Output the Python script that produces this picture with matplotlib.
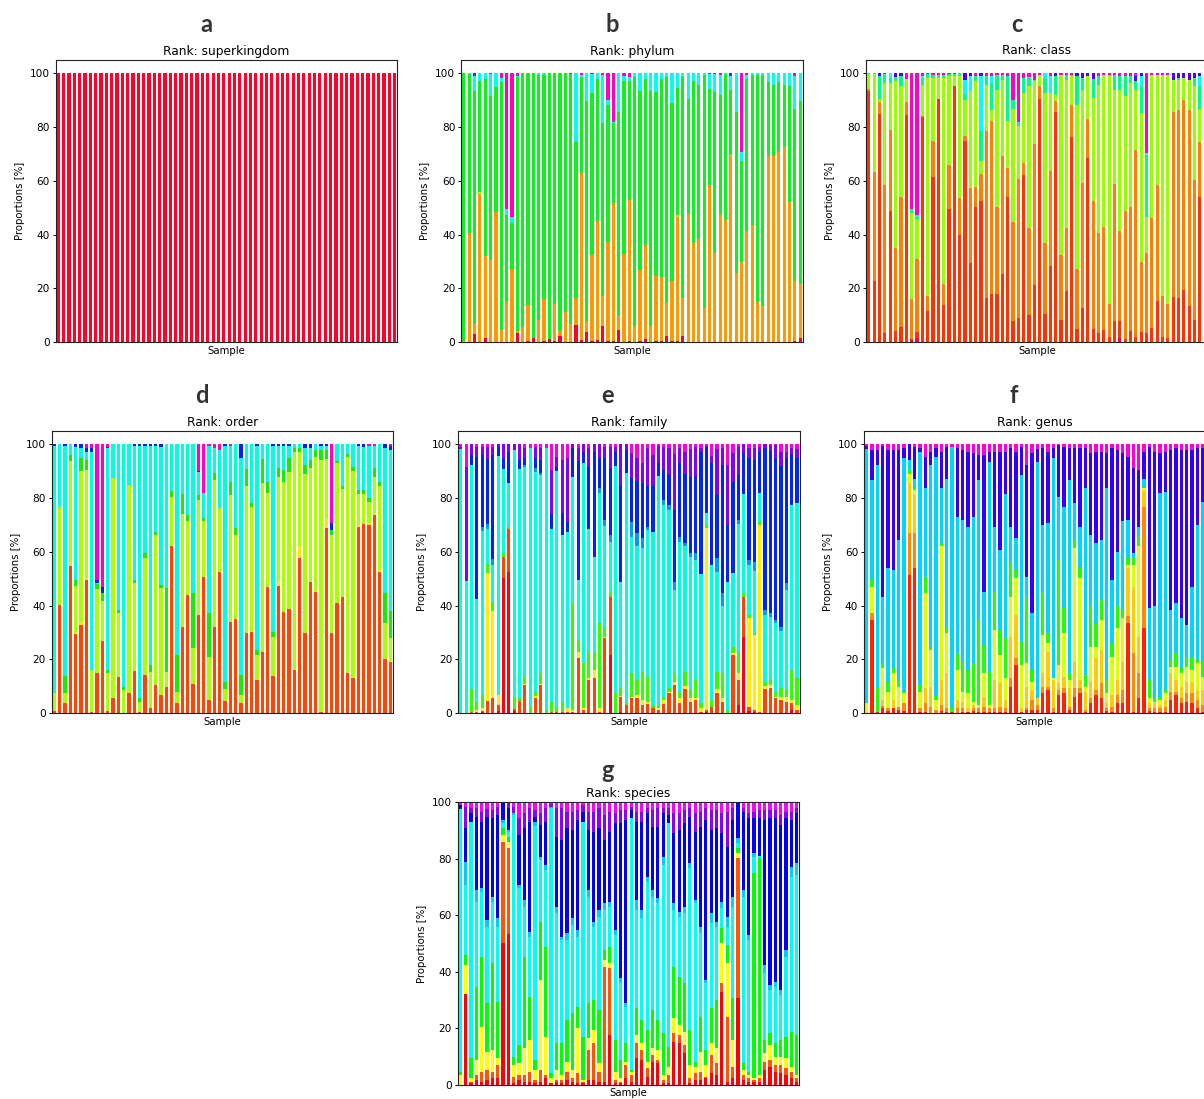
import numpy as np
import matplotlib.pyplot as plt

# Every list holds, per sample, the cumulative percentage at the top edge of
# that taxon's segment (bottom to top). The uppermost taxon fills up to 100 %.

superkingdom_bacteria = [
    100, 100, 100, 100, 100, 100, 100, 100, 100, 100, 100, 100, 100, 100, 100, 100,
    100, 100, 100, 100, 100, 100, 100, 100, 100, 100, 100, 100, 100, 100, 100, 100,
    100, 100, 100, 100, 100, 100, 100, 100, 100, 100, 100, 100, 100, 100, 100, 100,
    100, 100, 100, 100, 100, 100, 100, 100, 100, 100, 100, 100, 100, 100, 100, 100]

# ---- phylum
phylum_red = [
    0, 0, 3.1, 0, 1.7, 0, 0, 0, 0, 0, 3.6, 0, 0.5, 1.5, 0, 0.5,
    1.1, 0.5, 2.4, 0, 0, 6.4, 0.9, 3.8, 0.5, 0.9, 6.2, 0.5, 0.5, 4.7, 0, 0.5,
    0, 0.5, 1.4, 0, 0.5, 0.5, 2.4, 0.5, 0.5, 2.4, 0, 0, 0, 0, 0, 0,
    0, 0, 0, 0, 0, 0, 0, 0, 0, 0, 0, 0, 0, 0, 0.5, 1.7]
phylum_orange = [
    0.5, 40.4, 6.8, 55.1, 32.1, 30.6, 48.5, 4.6, 15.1, 27.3, 4.3, 5.7, 14.0, 1.7, 8.4, 16.0,
    1.1, 14.4, 4.1, 11.3, 6.8, 16.6, 62.9, 7.9, 32.5, 44.9, 17.3, 37.4, 51.7, 9.9, 32.8, 52.9,
    6.2, 26.9, 36.2, 6.2, 24.8, 24.3, 14.5, 22.8, 46.6, 16.5, 47.7, 37.0, 38.4, 12.8, 58.5, 33.3,
    47.7, 45.4, 69.3, 25.9, 30.0, 41.5, 43.6, 15.1, 13.3, 69.3, 69.3, 70.8, 72.5, 52.2, 22.6, 21.7]
phylum_yellowgreen = [
    0.5, 40.4, 6.8, 55.9, 32.1, 30.6, 48.5, 4.6, 15.1, 27.3, 4.3, 5.7, 14.0, 1.7, 8.4, 16.0,
    1.1, 14.4, 4.1, 11.3, 6.8, 16.6, 62.9, 7.9, 32.5, 44.9, 17.3, 37.4, 51.7, 9.9, 32.8, 52.9,
    6.2, 26.9, 36.2, 6.2, 24.8, 24.3, 14.5, 22.8, 47.1, 16.5, 47.7, 37.0, 38.4, 12.8, 58.5, 33.3,
    47.7, 45.4, 69.5, 25.9, 30.0, 41.5, 43.6, 15.1, 13.3, 69.3, 69.3, 70.8, 72.5, 52.2, 22.6, 21.7]
phylum_green = [
    100, 99.8, 93.4, 96.9, 97.9, 91.6, 94.8, 96.8, 47.1, 44.2, 98.5, 100, 100, 100, 99.3, 99.3,
    100, 100, 100, 100, 99.5, 74.5, 98.5, 89.7, 92.6, 97.9, 81.3, 88.0, 81.3, 85.6, 96.9, 97.1,
    98.5, 93.4, 97.9, 93.4, 93.1, 97.9, 98.5, 88.7, 94.4, 98.5, 90.5, 96.9, 95.4, 99.1, 94.2, 92.9,
    91.7, 99.8, 93.8, 85.5, 67.2, 97.8, 99.4, 99.4, 99.4, 96.7, 95.7, 96.5, 95.7, 95.3, 86.6, 89.7]
phylum_cyan = [
    100, 100, 99.0, 100, 100, 99.8, 100, 98.3, 49.6, 46.6, 99.0, 100, 100, 100, 100, 100,
    100, 100, 100, 100, 99.5, 100, 99.3, 100, 99.8, 100, 99.3, 90.1, 81.9, 100, 98.8, 98.4,
    100, 100, 100, 100, 100, 100, 100, 100, 100, 100, 100, 100, 100, 100, 99.5, 99.5,
    99.3, 100, 99.0, 100, 70.8, 99.3, 100, 100, 100, 100, 100, 100, 100, 100, 98.8, 100]
phylum_blue = [
    100, 100, 100, 100, 100, 99.8, 100, 98.3, 49.6, 46.6, 99.0, 100, 100, 100, 100, 100,
    100, 100, 100, 100, 99.5, 100, 99.3, 100, 99.8, 100, 99.3, 90.1, 81.9, 100, 98.8, 98.4,
    100, 100, 100, 100, 100, 100, 100, 100, 100, 100, 100, 100, 100, 100, 99.5, 99.5,
    99.3, 100, 100, 100, 70.8, 99.3, 100, 100, 100, 100, 100, 100, 100, 100, 98.8, 100]

# ---- class (the last sample lies beyond the right edge)
class_crimson = [
    0, 0, 0, 0, 0, 0, 0, 0, 0.9, 1.7, 0, 0, 0, 0, 0, 0,
    0, 0, 0, 0, 0, 0, 0, 0, 0, 0, 0, 0, 0, 0, 0, 0,
    0, 0, 0, 0, 0, 0, 0, 0, 0, 0, 0, 0, 0, 0, 0, 1.7,
    0, 0, 0, 0, 0.3, 0, 0, 0, 0, 0, 0, 0, 0, 0, 0]
class_red = [
    93.4, 22.8, 84.9, 3.6, 48.8, 4.2, 5.5, 84.5, 1.2, 4.0, 83.6, 11.8, 61.2, 90.3, 13.9, 49.6,
    95.3, 39.7, 74.6, 29.6, 50.3, 52.5, 16.6, 18.0, 18.0, 25.5, 54.0, 7.9, 9.2, 62.0, 10.2, 21.1,
    90.5, 10.5, 28.4, 85.5, 8.1, 19.2, 76.1, 5.1, 12.9, 68.6, 5.1, 3.6, 4.6, 1.9, 7.9, 7.9,
    1.4, 4.3, 2.1, 4.0, 3.3, 5.2, 15.4, 2.1, 1.5, 17.0, 16.6, 19.5, 13.6, 8.1, 54.0]
class_orange = [
    94.0, 63.3, 89.1, 58.5, 78.9, 34.9, 53.8, 89.1, 16.1, 30.9, 84.1, 17.3, 74.8, 90.3, 21.7, 65.9,
    95.3, 53.4, 76.5, 57.4, 57.5, 62.5, 78.6, 82.0, 50.4, 69.3, 64.9, 44.7, 60.6, 66.5, 42.6, 73.6,
    95.0, 36.7, 63.7, 89.5, 32.5, 42.6, 88.2, 27.1, 59.2, 82.9, 52.3, 40.6, 42.7, 14.3, 58.9, 41.3,
    48.8, 50.1, 71.3, 29.7, 33.3, 46.1, 58.5, 17.2, 14.3, 85.4, 86.1, 89.8, 86.1, 60.3, 74.3]
class_yellowgreen = [
    99.5, 99.6, 90.3, 96.3, 96.3, 96.9, 95.0, 97.8, 48.0, 45.7, 95.7, 98.1, 98.1, 98.1, 98.1, 99.0,
    99.0, 99.0, 90.1, 93.2, 96.9, 67.2, 95.7, 86.4, 93.8, 97.5, 82.0, 86.6, 80.4, 92.6, 95.0, 96.9,
    99.4, 92.6, 92.6, 92.0, 99.4, 97.5, 98.8, 88.2, 93.8, 98.8, 90.7, 95.7, 99.4, 98.8, 93.8, 93.8,
    91.3, 96.3, 93.6, 85.0, 46.7, 99.4, 99.4, 99.4, 99.4, 97.5, 97.5, 98.1, 97.5, 95.0, 86.6]
class_green = [
    100, 100, 99.0, 99.6, 98.1, 98.5, 99.0, 97.8, 49.6, 46.7, 98.1, 99.5, 99.4, 99.4, 99.4, 99.8,
    99.8, 100, 92.3, 93.2, 99.0, 78.3, 99.0, 96.3, 99.4, 99.4, 99.0, 90.1, 81.3, 98.1, 98.1, 97.5,
    99.4, 98.1, 92.6, 98.8, 99.4, 99.4, 99.4, 98.8, 98.1, 98.8, 97.9, 99.0, 99.4, 99.4, 99.4, 99.0,
    99.0, 99.0, 96.9, 95.0, 69.5, 99.4, 99.4, 99.4, 99.4, 97.5, 98.1, 98.1, 97.5, 98.1, 95.3]
class_cyan = [
    100, 100, 99.0, 99.6, 100, 98.5, 99.0, 97.8, 49.6, 47.3, 99.0, 99.5, 99.4, 99.4, 99.4, 99.8,
    99.8, 100, 97.5, 99.0, 99.0, 99.0, 99.0, 99.0, 99.4, 99.4, 99.0, 90.1, 81.9, 98.1, 98.5, 97.5,
    99.4, 100, 98.8, 98.8, 99.4, 99.4, 99.4, 98.8, 98.1, 98.8, 97.9, 99.0, 99.4, 99.4, 99.4, 99.0,
    99.0, 99.0, 96.9, 99.0, 70.4, 99.4, 99.4, 99.4, 99.4, 97.5, 98.1, 98.1, 97.5, 98.1, 99.0]
class_blue = [
    100, 100, 100, 99.6, 100, 100, 100, 97.8, 49.6, 47.3, 99.0, 99.5, 99.4, 99.4, 99.4, 99.8,
    99.8, 100, 100, 100, 99.0, 100, 99.0, 99.0, 99.4, 99.4, 99.0, 90.1, 81.9, 98.1, 98.5, 97.5,
    99.4, 100, 98.8, 100, 99.4, 99.4, 99.4, 100, 100, 100, 100, 99.0, 99.4, 99.4, 99.4, 99.0,
    99.0, 99.0, 99.0, 100, 70.4, 99.4, 99.4, 99.4, 99.4, 100, 100, 100, 100, 100, 100]

# ---- order
order_red = [
    1.0, 40.3, 4.0, 54.8, 29.5, 32.8, 49.6, 0.6, 14.9, 26.9, 0.9, 5.6, 13.6, 0.2, 7.7, 15.9,
    0.6, 14.3, 1.9, 10.5, 6.8, 9.9, 62.3, 4.0, 32.2, 44.0, 10.8, 36.6, 50.8, 5.0, 32.2, 52.7,
    4.7, 34.0, 35.1, 4.0, 30.0, 30.4, 12.4, 22.9, 46.8, 14.0, 47.3, 37.8, 38.7, 16.1, 57.6, 29.7,
    48.9, 45.2, 0.6, 68.8, 29.7, 40.9, 43.1, 14.9, 13.0, 69.4, 70.4, 70.0, 73.7, 52.7, 20.1, 19.2]
order_yellow = [
    1.0, 40.3, 4.0, 56.4, 30.4, 34.0, 50.2, 0.6, 14.9, 26.9, 0.9, 5.6, 13.6, 0.2, 7.7, 15.9,
    0.6, 14.3, 1.9, 10.5, 6.8, 9.9, 62.3, 4.0, 32.2, 44.0, 10.8, 36.6, 50.8, 5.0, 32.2, 52.7,
    4.7, 34.0, 35.1, 4.0, 30.0, 30.4, 12.4, 22.9, 46.8, 14.0, 49.1, 37.8, 38.7, 16.1, 62.0, 29.7,
    48.9, 45.2, 0.6, 72.5, 29.7, 40.9, 43.1, 14.9, 13.0, 70.0, 70.4, 70.6, 74.3, 53.3, 20.1, 19.8]
order_yellowgreen = [
    7.4, 76.8, 7.4, 93.6, 47.3, 90.1, 90.5, 16.1, 46.2, 41.8, 14.9, 87.4, 37.2, 8.7, 84.9, 48.3,
    4.3, 57.9, 15.5, 66.3, 46.5, 15.5, 80.5, 8.0, 74.0, 71.3, 24.2, 79.3, 71.3, 21.1, 86.7, 76.2,
    8.9, 81.2, 66.3, 6.8, 84.3, 76.8, 21.7, 85.5, 81.8, 28.5, 88.0, 86.1, 89.8, 97.3, 97.3, 89.0,
    91.1, 95.4, 94.0, 94.5, 66.3, 92.9, 83.4, 95.4, 90.2, 81.5, 81.5, 78.7, 88.0, 84.3, 33.5, 27.9]
order_green = [
    7.4, 76.8, 14.0, 96.0, 49.6, 94.8, 94.2, 16.1, 48.1, 44.6, 16.1, 87.4, 38.4, 9.9, 84.9, 49.6,
    5.6, 59.5, 18.0, 67.5, 47.7, 46.5, 82.7, 21.7, 81.4, 73.7, 44.6, 81.2, 72.5, 37.2, 89.2, 76.2,
    11.8, 86.1, 68.8, 14.2, 90.7, 78.1, 23.5, 94.5, 86.1, 30.4, 91.1, 90.5, 94.8, 98.5, 98.5, 92.3,
    94.2, 97.9, 97.9, 97.9, 68.2, 93.6, 84.3, 96.4, 91.4, 83.0, 83.0, 79.9, 91.1, 86.1, 44.6, 38.0]
order_cyan = [
    99.5, 100, 99.5, 100, 99.1, 98.5, 97.3, 97.3, 48.6, 44.6, 98.5, 100, 100, 100, 100, 99.4,
    99.4, 99.4, 99.4, 99.4, 99.1, 100, 100, 100, 100, 100, 100, 89.8, 81.8, 99.5, 98.5, 97.9,
    99.4, 99.4, 100, 94.9, 100, 100, 99.4, 100, 100, 99.4, 99.4, 99.4, 99.4, 100, 100, 98.5,
    98.5, 100, 99.4, 99.4, 68.2, 100, 100, 100, 100, 99.4, 99.1, 99.4, 99.4, 100, 98.5, 97.9]
order_blue = [
    100, 100, 100, 100, 100, 100, 98.5, 98.5, 49.6, 47.1, 99.1, 100, 100, 100, 100, 100,
    100, 100, 100, 100, 100, 100, 100, 100, 100, 100, 100, 90.2, 81.8, 99.5, 98.5, 97.9,
    100, 99.4, 100, 100, 100, 100, 100, 100, 100, 100, 100, 100, 100, 100, 100, 100,
    100, 100, 100, 100, 70.6, 100, 100, 100, 100, 100, 100, 99.4, 99.4, 100, 100, 99.4]

# ---- family
family_red = [
    0, 0, 0, 0, 0.4, 0, 0, 0.9, 50.3, 52.7, 0.9, 0, 0, 0, 0, 0,
    0, 0, 0, 0, 0, 0, 0, 0, 0, 0, 0, 0, 21.7, 0, 0.6, 0,
    0, 0, 0, 0, 0, 0, 0, 0, 0, 0, 0, 0, 0, 0, 0.6, 0,
    0, 0, 0, 0, 3.1, 28.5, 0.9, 0.6, 0, 0, 0, 0, 0, 0, 1.2, 0]
family_orangered = [
    0, 0, 0.6, 0.6, 1.0, 4.7, 5.6, 2.9, 58.0, 68.5, 1.5, 4.6, 10.5, 0, 5.6, 10.5,
    0, 0.4, 0.6, 0.4, 0.6, 0.6, 20.4, 1.2, 12.4, 13.3, 0.4, 27.9, 43.4, 0, 6.2, 3.1,
    5.6, 5.6, 3.1, 3.5, 1.9, 1.2, 3.5, 7.4, 10.5, 3.7, 8.9, 4.3, 5.0, 0.6, 1.2, 2.5,
    7.4, 4.3, 0.2, 21.7, 12.4, 43.1, 2.5, 1.2, 0.4, 8.9, 9.3, 5.6, 5.0, 4.3, 3.7, 1.2]
family_yellow = [
    0, 0, 0.6, 1.2, 1.9, 52.0, 38.2, 6.8, 58.0, 68.5, 1.5, 4.6, 10.9, 0, 6.4, 10.9,
    0, 0.4, 0.6, 0.6, 1.9, 1.2, 22.6, 1.9, 13.0, 16.1, 1.9, 28.5, 43.4, 0, 6.4, 3.1,
    6.2, 6.8, 5.0, 4.2, 1.9, 1.9, 5.0, 8.1, 11.8, 5.6, 10.2, 5.6, 5.6, 1.9, 68.8, 2.5,
    8.9, 5.6, 0.2, 22.3, 14.9, 43.1, 35.3, 29.1, 70.0, 10.2, 10.5, 6.2, 6.2, 6.2, 5.0, 3.1]
family_green = [
    0, 0, 8.9, 4.3, 6.8, 55.5, 41.5, 6.8, 59.5, 69.3, 6.2, 5.6, 13.9, 2.5, 8.1, 14.9,
    1.2, 4.3, 2.5, 4.3, 1.9, 40.9, 27.3, 18.6, 22.9, 22.3, 33.5, 31.6, 45.0, 7.4, 9.3, 3.7,
    14.9, 12.4, 15.5, 13.6, 3.1, 3.1, 6.2, 9.3, 15.1, 8.1, 15.5, 8.7, 12.4, 3.7, 70.0, 5.0,
    15.5, 14.9, 1.2, 24.8, 22.3, 44.6, 36.6, 29.7, 71.3, 11.8, 12.6, 8.1, 9.3, 8.7, 16.1, 13.0]
family_cyan = [
    98.1, 49.2, 92.3, 42.4, 67.8, 68.4, 55.1, 95.7, 90.7, 85.7, 97.9, 90.7, 91.4, 98.5, 89.8, 88.4,
    98.5, 68.4, 90.2, 66.3, 67.5, 88.0, 49.6, 92.9, 68.4, 58.2, 81.8, 69.8, 63.8, 91.9, 48.9, 89.2,
    65.7, 62.0, 61.3, 68.2, 67.5, 88.2, 77.4, 75.6, 45.8, 63.8, 62.0, 58.2, 57.0, 51.7, 74.3, 55.1,
    52.4, 39.7, 48.9, 52.0, 70.3, 81.4, 55.1, 53.0, 82.0, 36.6, 35.9, 33.5, 30.7, 45.8, 77.4, 78.3]
family_lightblue = [
    98.1, 49.2, 92.3, 42.4, 69.4, 70.3, 57.4, 95.7, 90.7, 85.7, 97.9, 90.7, 92.3, 98.5, 91.1, 89.2,
    98.5, 68.4, 90.2, 66.3, 67.5, 88.0, 49.6, 92.9, 68.4, 58.2, 83.6, 71.9, 66.3, 91.9, 48.9, 89.2,
    71.0, 67.2, 65.1, 69.4, 67.5, 88.2, 79.3, 77.4, 48.9, 65.7, 63.2, 59.5, 59.5, 51.7, 74.3, 55.1,
    57.6, 44.6, 48.9, 52.0, 71.9, 81.4, 57.0, 56.4, 82.0, 38.4, 37.2, 34.7, 32.2, 48.3, 77.4, 78.3]
family_blue = [
    98.1, 49.2, 96.0, 95.4, 96.0, 94.4, 96.0, 98.8, 94.4, 97.3, 97.9, 94.2, 95.0, 98.5, 94.8, 94.2,
    98.5, 74.0, 91.7, 74.3, 71.0, 98.5, 93.6, 97.3, 91.7, 97.3, 94.8, 94.8, 91.1, 97.3, 84.3, 97.9,
    87.4, 86.4, 85.5, 84.3, 84.5, 93.2, 90.5, 88.6, 75.6, 93.2, 89.0, 88.0, 88.0, 97.3, 99.1, 93.0,
    81.2, 92.3, 70.0, 86.1, 88.6, 96.7, 94.8, 94.2, 97.3, 98.5, 97.5, 94.8, 91.9, 94.8, 96.3, 94.8]
family_purple = [
    99.1, 91.7, 100, 99.1, 99.1, 99.1, 99.1, 100, 100, 100, 100, 100, 98.5, 98.5, 98.8, 98.5,
    98.5, 90.5, 95.4, 94.2, 94.8, 100, 98.5, 100, 98.5, 100, 100, 99.1, 99.1, 99.1, 100, 100,
    96.7, 94.8, 93.2, 98.5, 96.0, 99.4, 99.1, 98.5, 96.5, 98.5, 97.3, 98.1, 99.1, 98.5, 99.4, 95.7,
    98.1, 98.5, 92.3, 96.7, 99.1, 100, 98.5, 98.5, 99.1, 100, 99.8, 99.8, 97.3, 97.3, 98.5, 98.1]

# ---- genus
genus_red = [
    0, 34.7, 0.6, 1.9, 0.9, 2.1, 1.2, 0.9, 51.4, 53.9, 0.6, 0.4, 0.2, 0.2, 0.9, 0.6,
    0.4, 0.2, 0.6, 0.6, 0.9, 0.6, 0.6, 0.6, 0.6, 0.6, 0.6, 9.9, 18.0, 0.4, 1.2, 1.2,
    1.2, 7.4, 8.7, 0.6, 6.8, 7.4, 1.2, 6.2, 7.4, 0.6, 3.7, 6.8, 5.6, 0.9, 0.6, 3.7,
    3.7, 33.5, 0.6, 5.6, 31.6, 0.9, 0.6, 0.6, 0.6, 5.0, 6.8, 3.7, 4.3, 3.7, 1.9, 0.6]
genus_orange = [
    0, 37.2, 0.6, 2.7, 1.9, 2.1, 2.5, 3.7, 66.9, 66.9, 1.9, 3.7, 2.5, 1.2, 3.1, 1.9,
    0.4, 1.9, 1.9, 0.6, 1.9, 1.9, 2.5, 1.9, 1.9, 2.5, 1.9, 13.0, 20.4, 0.4, 1.9, 5.0,
    3.1, 9.9, 9.9, 1.9, 8.7, 9.3, 2.5, 9.3, 9.3, 1.2, 5.6, 8.7, 11.2, 1.9, 2.5, 6.8,
    8.7, 36.0, 22.3, 14.9, 76.8, 1.9, 1.9, 1.9, 2.5, 8.1, 8.1, 5.6, 7.4, 7.4, 5.0, 3.1]
genus_gold = [
    0, 37.2, 0.6, 5.0, 1.9, 5.0, 2.5, 3.7, 85.7, 81.0, 1.9, 9.3, 9.9, 1.2, 12.4, 14.9,
    0.4, 5.0, 4.3, 1.9, 3.1, 1.9, 6.2, 1.9, 12.4, 11.2, 5.0, 28.5, 36.6, 1.9, 9.9, 8.7,
    5.6, 14.9, 22.9, 12.4, 11.2, 13.6, 9.3, 19.2, 12.4, 8.1, 11.8, 20.4, 23.5, 3.7, 6.8, 12.4,
    19.2, 53.9, 47.1, 28.5, 82.5, 3.7, 3.7, 3.1, 5.0, 14.9, 12.4, 9.9, 11.8, 11.8, 8.7, 8.7]
genus_yellow = [
    3.7, 47.1, 0.6, 16.7, 8.1, 14.9, 9.9, 7.4, 88.8, 82.9, 8.1, 44.6, 23.5, 5.0, 62.0, 29.7,
    0.6, 16.1, 8.1, 7.4, 4.3, 3.1, 14.9, 3.1, 31.0, 21.7, 13.0, 43.4, 50.2, 18.0, 18.6, 11.8,
    5.6, 29.1, 26.0, 13.0, 17.9, 29.7, 12.4, 61.3, 50.2, 9.9, 24.8, 24.8, 34.7, 7.4, 21.1, 31.6,
    35.3, 55.1, 55.1, 62.0, 83.6, 5.6, 4.3, 5.0, 7.4, 17.3, 17.3, 14.9, 17.3, 16.1, 18.6, 13.6]
genus_green = [
    3.7, 49.8, 9.3, 18.2, 11.8, 16.7, 12.4, 8.1, 90.5, 84.0, 10.5, 50.8, 24.8, 6.4, 63.2, 32.2,
    2.5, 22.1, 19.2, 16.1, 18.8, 34.7, 25.4, 15.5, 44.9, 31.0, 27.9, 56.4, 53.3, 26.6, 43.4, 16.1,
    5.6, 44.6, 29.7, 13.0, 57.0, 39.0, 14.9, 64.4, 54.5, 14.2, 39.7, 33.5, 42.1, 12.4, 26.0, 39.7,
    38.4, 57.6, 57.6, 65.7, 84.0, 12.4, 5.6, 6.2, 8.7, 19.8, 22.3, 16.7, 21.1, 20.4, 19.8, 19.2]
genus_sky = [
    98.1, 86.7, 92.3, 43.1, 53.9, 53.3, 64.4, 94.8, 94.2, 87.1, 97.3, 83.6, 92.3, 95.4, 83.6, 87.1,
    99.1, 73.1, 71.9, 69.4, 73.1, 86.7, 45.2, 93.4, 69.4, 60.7, 81.4, 69.4, 65.1, 88.4, 50.8, 37.2,
    93.4, 70.0, 70.6, 94.8, 80.5, 76.8, 86.7, 78.0, 69.4, 83.6, 66.3, 63.2, 64.4, 83.6, 49.6, 60.1,
    71.3, 71.9, 59.5, 69.4, 87.1, 39.0, 39.7, 81.8, 82.4, 38.4, 40.9, 35.3, 32.8, 47.1, 70.0, 78.7]
genus_indigo = [
    99.4, 97.9, 97.9, 99.4, 97.9, 97.9, 97.9, 98.5, 100, 99.1, 98.5, 95.4, 97.3, 98.5, 97.3, 99.1,
    99.1, 98.5, 97.9, 97.3, 96.7, 96.0, 96.0, 97.3, 97.3, 97.3, 97.3, 98.5, 97.3, 99.1, 92.3, 96.7,
    98.1, 98.5, 97.3, 98.5, 99.8, 99.1, 98.5, 98.5, 98.5, 98.5, 96.7, 97.3, 97.3, 96.7, 98.5, 97.9,
    96.7, 95.4, 91.3, 90.5, 97.3, 99.1, 97.3, 96.7, 97.3, 97.9, 98.5, 97.9, 97.9, 97.9, 98.5, 98.5]

# ---- species
species_red = [
    0, 32.2, 0.6, 1.8, 1.2, 1.8, 2.4, 2.4, 50.1, 53.3, 0.6, 1.8, 1.2, 1.2, 0.8, 1.2,
    2.4, 0.8, 0.9, 0.8, 1.8, 1.2, 0.6, 0.6, 1.8, 1.8, 1.2, 1.2, 17.7, 0.6, 0.6, 2.4,
    1.2, 9.4, 8.8, 2.9, 8.3, 7.7, 0.6, 0.6, 15.3, 14.7, 11.2, 0.6, 1.8, 1.8, 2.4, 4.1,
    3.5, 33.0, 1.2, 2.4, 30.7, 1.8, 1.2, 1.2, 1.2, 5.3, 6.5, 4.7, 4.1, 3.5, 2.4, 1.2]
species_orange = [
    0, 32.2, 1.2, 3.5, 4.7, 5.3, 4.7, 7.1, 86.1, 83.7, 2.9, 3.5, 3.5, 4.7, 1.8, 5.3,
    3.5, 0.8, 1.8, 1.8, 4.7, 2.4, 4.1, 1.2, 12.4, 14.7, 4.7, 41.9, 41.3, 1.8, 1.2, 7.1,
    3.5, 14.7, 12.4, 5.9, 10.6, 8.8, 1.8, 3.5, 18.3, 17.7, 14.2, 2.4, 4.1, 4.7, 2.9, 10.6,
    7.7, 36.0, 24.2, 6.5, 80.2, 3.5, 2.4, 1.8, 2.4, 8.3, 8.8, 7.1, 7.1, 5.9, 4.7, 2.4]
species_yellow = [
    3.5, 42.5, 2.4, 8.8, 20.6, 11.8, 12.4, 9.4, 88.4, 86.1, 7.1, 7.7, 13.0, 15.9, 5.3, 37.1,
    17.1, 2.4, 5.3, 3.5, 8.3, 5.3, 20.0, 1.8, 16.5, 19.5, 7.7, 44.2, 43.0, 4.7, 2.4, 8.3,
    4.7, 17.7, 14.7, 8.3, 13.0, 12.4, 3.5, 6.5, 23.6, 21.2, 18.9, 7.1, 6.5, 11.8, 7.1, 14.7,
    13.0, 50.1, 43.0, 15.9, 82.0, 5.3, 3.5, 2.4, 3.5, 11.2, 14.2, 10.0, 10.0, 9.4, 6.5, 3.5]
species_green = [
    4.7, 46.0, 9.4, 34.8, 45.4, 28.9, 43.0, 29.5, 90.8, 87.9, 10.0, 14.2, 45.4, 31.3, 8.8, 57.8,
    48.9, 4.1, 14.7, 14.7, 23.0, 25.4, 27.7, 17.1, 28.9, 30.1, 26.5, 47.8, 48.9, 15.9, 8.8, 14.7,
    5.3, 27.1, 23.0, 19.5, 26.5, 23.0, 18.3, 13.6, 41.9, 38.3, 36.0, 19.5, 8.3, 24.2, 12.4, 27.1,
    30.1, 55.4, 49.5, 30.7, 83.7, 7.7, 4.7, 74.9, 80.2, 15.9, 18.3, 14.7, 15.9, 17.1, 18.9, 17.7]
species_cyan = [
    97.5, 70.8, 93.2, 64.9, 68.4, 56.0, 64.9, 56.0, 92.6, 89.6, 95.5, 69.6, 63.1, 52.5, 91.6, 79.6,
    76.1, 97.9, 60.7, 51.3, 51.3, 56.6, 52.5, 93.2, 66.6, 56.0, 59.6, 61.9, 63.1, 53.1, 36.0, 27.7,
    94.3, 61.9, 59.0, 71.9, 66.6, 64.3, 77.8, 92.6, 61.9, 59.6, 60.7, 76.7, 64.3, 53.7, 36.0, 57.2,
    56.0, 62.5, 56.0, 63.1, 85.5, 66.6, 51.3, 80.8, 81.0, 39.5, 33.6, 34.8, 31.8, 45.4, 73.7, 74.3]
species_sky = [
    97.5, 79.0, 93.2, 69.0, 69.6, 58.4, 66.6, 59.0, 93.7, 90.2, 96.3, 70.8, 65.4, 54.2, 93.2, 80.8,
    77.8, 98.5, 63.1, 52.5, 53.7, 59.0, 54.8, 93.2, 69.0, 57.8, 61.9, 64.3, 64.9, 54.8, 37.7, 28.9,
    94.3, 65.4, 61.9, 73.7, 69.0, 66.0, 80.8, 92.6, 64.3, 61.3, 63.1, 78.4, 65.4, 56.0, 37.1, 60.7,
    57.8, 64.9, 59.6, 66.6, 87.3, 69.0, 53.1, 82.0, 81.0, 42.5, 35.4, 36.6, 33.6, 47.8, 77.2, 78.4]
species_blue = [
    99.1, 90.8, 96.1, 94.9, 93.2, 94.9, 94.3, 95.5, 100, 97.9, 96.3, 88.4, 90.8, 93.2, 94.9, 92.0,
    93.2, 98.5, 87.9, 86.7, 90.8, 90.2, 93.7, 96.7, 90.2, 89.6, 90.8, 86.7, 89.6, 92.6, 92.6, 93.7,
    97.3, 93.2, 93.2, 96.1, 91.4, 91.4, 96.1, 95.5, 89.0, 90.2, 92.6, 94.9, 89.6, 91.4, 93.7, 90.2,
    90.8, 89.0, 84.3, 93.7, 100, 96.7, 94.3, 94.3, 94.3, 93.7, 94.3, 94.3, 92.0, 94.3, 93.7, 96.1]
species_purple = [
    99.1, 98.5, 97.9, 97.9, 96.7, 97.5, 97.3, 98.5, 100, 99.6, 98.2, 94.3, 96.1, 97.9, 97.3, 96.1,
    97.9, 99.3, 97.9, 97.9, 96.7, 96.7, 97.3, 99.1, 96.7, 96.7, 97.9, 95.5, 96.7, 96.1, 97.3, 97.3,
    98.5, 96.7, 96.7, 97.9, 97.3, 97.9, 97.9, 97.9, 96.1, 96.1, 97.3, 97.9, 96.1, 96.7, 97.9, 97.3,
    97.3, 96.1, 96.7, 97.9, 100, 97.9, 96.1, 96.7, 97.3, 97.3, 97.3, 97.3, 95.5, 96.7, 96.7, 97.9]

W, H = 1204, 1099
plt.rcParams['font.family'] = ['DejaVu Sans']
plt.rcParams['axes.edgecolor'] = '#222222'
fig = plt.figure(figsize=(W / 100, H / 100), dpi=100)


def add_panel(left, top, width, height):
    # pixel box -> figure fraction
    return fig.add_axes([left / W, 1 - (top + height) / H, width / W, height / H])


def stacked(ax, tops, colors, rank, ymax=105):
    x = np.arange(len(tops[0]))
    tops = [np.asarray(t, dtype=float) for t in tops] + [np.full(len(x), 100.0)]
    bottom = np.zeros(len(x))
    for top, color in zip(tops, colors):
        ax.bar(x, top - bottom, bottom=bottom, width=0.6, color=color, linewidth=0)
        bottom = top
    ax.set_xlim(-0.5, 63.5)
    ax.set_ylim(0, ymax)
    ax.set_xticks([])
    ax.set_yticks(range(0, 101, 20))
    ax.tick_params(axis='y', labelsize=7.6, length=2.4, width=0.7, pad=1.8)
    ax.set_title('Rank: ' + rank, fontsize=8.8, pad=3.6)
    ax.set_xlabel('Sample', fontsize=7.3, labelpad=2.5)
    ax.set_ylabel('Proportions [%]', fontsize=7.3, labelpad=3.5)


ax = add_panel(55.6, 59.5, 341.7, 282.8)
stacked(ax, [superkingdom_bacteria], ['#ff0029', '#ff0029'], 'superkingdom')

ax = add_panel(461.2, 59.5, 341.7, 282.8)
stacked(ax, [phylum_red, phylum_orange, phylum_yellowgreen, phylum_green,
             phylum_cyan, phylum_blue],
        ['#ff0029', '#ff9900', '#9cff00', '#10f020', '#00ffee', '#1a3cff', '#ff00c0'],
        'phylum')

ax = add_panel(866.2, 59.5, 341.7, 282.8)
stacked(ax, [class_crimson, class_red, class_orange, class_yellowgreen, class_green,
             class_cyan, class_blue],
        ['#ff0040', '#ff3300', '#ff8000', '#99ff00', '#00ff80', '#00ffff', '#4a00ff', '#ff00c8'],
        'class')

ax = add_panel(51.6, 430.8, 341.4, 282.5)
stacked(ax, [order_red, order_yellow, order_yellowgreen, order_green, order_cyan, order_blue],
        ['#ff4400', '#ffe600', '#aaff00', '#14ee00', '#00ffdd', '#0022ff', '#ff00cc'],
        'order')

ax = add_panel(458.2, 430.8, 341.4, 282.5)
stacked(ax, [family_red, family_orangered, family_yellow, family_green, family_cyan,
             family_lightblue, family_blue, family_purple],
        ['#ff0010', '#ff4400', '#ffee00', '#33ff00', '#00ffdd', '#0099ff', '#0022ff',
         '#8000ff', '#ff00dd'],
        'family')

ax = add_panel(864.0, 430.8, 341.4, 282.5)
stacked(ax, [genus_red, genus_orange, genus_gold, genus_yellow, genus_green, genus_sky,
             genus_indigo],
        ['#ff2200', '#ff8800', '#ffcc00', '#ddff00', '#22ff00', '#00d5ff', '#3300ff', '#ff00dd'],
        'genus')

ax = add_panel(457.6, 802.3, 341.7, 282.7)
stacked(ax, [species_red, species_orange, species_yellow, species_green, species_cyan,
             species_sky, species_blue, species_purple],
        ['#ff0000', '#ff5500', '#ffff00', '#00ff00', '#00ffee', '#00ccff', '#0000ff',
         '#8800ff', '#ff00ff'],
        'species', ymax=100)

# panel letters
for letter, px, py in [('a', 206, 31.5), ('b', 612, 31.5), ('c', 1017, 31.5),
                       ('d', 202, 402.7), ('e', 608, 402.7), ('f', 1014, 402.7),
                       ('g', 608, 778.3)]:
    fig.text(px / W, 1 - py / H, letter, ha='center', va='baseline', fontsize=17,
             fontweight='bold', family='Lato', color='#333333')

fig.savefig('out.png', dpi=100)
